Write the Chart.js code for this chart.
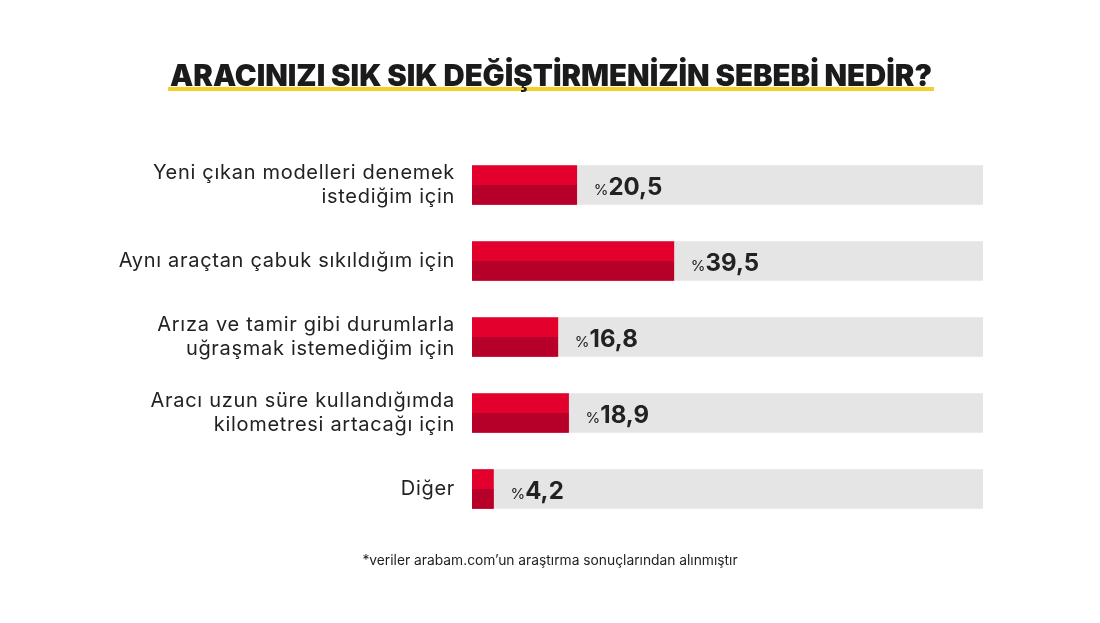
<!DOCTYPE html>
<html lang="tr">
<head>
<meta charset="utf-8">
<title>Aracınızı sık sık değiştirmenizin sebebi nedir?</title>
<script src="https://cdn.jsdelivr.net/npm/chart.js@4.4.1/dist/chart.umd.min.js"></script>
<style>
  html, body { margin: 0; padding: 0; background: #ffffff; }
  #wrap { position: relative; width: 1100px; height: 623px; }
</style>
</head>
<body>
<div id="wrap"><canvas id="chart"></canvas></div>
<script>
// Veriler
const categories = [
  ["Yeni çıkan modelleri denemek", "istediğim için"],
  "Aynı araçtan çabuk sıkıldığım için",
  ["Arıza ve tamir gibi durumlarla", "uğraşmak istemediğim için"],
  ["Aracı uzun süre kullandığımda", "kilometresi artacağı için"],
  "Diğer",
];
const percentValues = [20.5, 39.5, 16.8, 18.9, 4.2];
const trackValues = [100, 100, 100, 100, 100];

const titleText = "ARACINIZI SIK SIK DEĞİŞTİRMENİZİN SEBEBİ NEDİR?";
const footnoteText = "*veriler arabam.com’un araştırma sonuçlarından alınmıştır";

// Renkler
const RED_TOP = "#e3002c";
const RED_BOTTOM = "#b6002a";
const TRACK = "#e5e5e5";
const TEXT = "#222222";
const YELLOW = "#f6d02a";
const FONT = "Inter, 'Noto Sans', sans-serif";

// Kategori etiketleri referanstaki gibi biraz açık aralıklı
const labelSpacingPlugin = {
  id: "labelSpacing",
  beforeDraw(chart) {
    chart.ctx.letterSpacing = "0.7px";
  },
  beforeDatasetsDraw(chart) {
    chart.ctx.letterSpacing = "0px";
  },
};

// Barın alt yarısını koyu kırmızı boyar
const twoTonePlugin = {
  id: "twoTone",
  afterDatasetDraw(chart, args) {
    if (args.index !== 0) return;
    const ctx = chart.ctx;
    ctx.save();
    ctx.fillStyle = RED_BOTTOM;
    args.meta.data.forEach((bar) => {
      const p = bar.getProps(["x", "y", "base", "height"], true);
      ctx.fillRect(p.base, p.y, p.x - p.base, p.height / 2);
    });
    ctx.restore();
  },
};

// Değer etiketleri: küçük "%" ve kalın sayı
const valueLabelPlugin = {
  id: "valueLabels",
  afterDatasetsDraw(chart) {
    const ctx = chart.ctx;
    const meta = chart.getDatasetMeta(0);
    ctx.save();
    ctx.textBaseline = "alphabetic";
    ctx.textAlign = "left";
    meta.data.forEach((bar, i) => {
      const p = bar.getProps(["x", "y"], true);
      const num = percentValues[i].toFixed(1).replace(".", ",");
      let x = p.x + 17;
      const y = p.y + 10;
      ctx.fillStyle = TEXT;
      ctx.font = "400 15px " + FONT;
      ctx.fillText("%", x, y);
      x += ctx.measureText("%").width;
      ctx.font = "700 24px " + FONT;
      ctx.fillText(num, x, y);
    });
    ctx.restore();
  },
};

// Başlık, sarı alt çizgi ve dipnot
const headerFooterPlugin = {
  id: "headerFooter",
  afterDraw(chart) {
    const ctx = chart.ctx;
    const cx = 551;
    ctx.save();
    ctx.letterSpacing = "0px";
    // başlığı referans genişliğine (~762px) sığdır
    ctx.font = "900 30px " + FONT;
    let size = 30 * 762 / ctx.measureText(titleText).width;
    ctx.font = "900 " + size.toFixed(2) + "px " + FONT;
    const w = ctx.measureText(titleText).width;
    ctx.fillStyle = YELLOW;
    ctx.fillRect(cx - w / 2 - 2, 87, w + 4, 4);
    ctx.fillStyle = "#1b1b1b";
    ctx.textAlign = "center";
    ctx.textBaseline = "alphabetic";
    ctx.fillText(titleText, cx, 86);

    ctx.fillStyle = TEXT;
    ctx.font = "400 13.8px " + FONT;
    ctx.fillText(footnoteText, 550, 565);
    ctx.restore();
  },
};

const chart = new Chart(document.getElementById("chart"), {
  type: "bar",
  data: {
    labels: categories,
    datasets: [
      {
        data: percentValues,
        backgroundColor: RED_TOP,
        barThickness: 39,
        grouped: false,
      },
      {
        data: trackValues,
        backgroundColor: TRACK,
        barThickness: 39,
        grouped: false,
      },
    ],
  },
  options: {
    indexAxis: "y",
    responsive: true,
    maintainAspectRatio: false,
    animation: false,
    layout: {
      padding: { top: 147, bottom: 96, left: 0, right: 117 },
    },
    plugins: {
      legend: { display: false },
      tooltip: { enabled: false },
      title: { display: false },
    },
    scales: {
      x: {
        display: false,
        min: 0,
        max: 100,
      },
      y: {
        grid: { display: false },
        border: { display: false },
        afterFit(scale) {
          scale.width = 472;
        },
        ticks: {
          color: TEXT,
          padding: 9,
          font: { family: FONT, size: 20, lineHeight: 1.2 },
        },
      },
    },
  },
  plugins: [labelSpacingPlugin, twoTonePlugin, valueLabelPlugin, headerFooterPlugin],
});
</script>
</body>
</html>
